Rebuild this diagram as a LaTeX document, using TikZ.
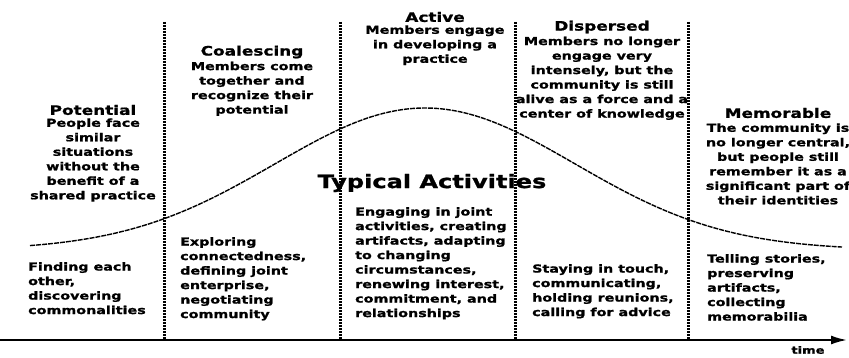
\documentclass[tikz,border=0pt]{standalone}
\usepackage{fontspec}
\usepackage{tikz}
\usetikzlibrary{positioning,arrows.meta}
\newfontfamily\stagefont{DejaVu Sans}[FakeStretch=1.3, FakeBold=1.2]

\tikzset{
    stagetitle/.style={font=\stagefont\bfseries\fontsize{13}{15}\selectfont, inner sep=1pt},
    stagebody/.style={font=\stagefont\bfseries\fontsize{11}{14.5}\selectfont, align=center, inner sep=0pt},
    activity/.style={font=\stagefont\bfseries\fontsize{11}{14.5}\selectfont, align=left, anchor=north west, inner sep=0pt},
    divider/.style={line width=3pt, dash pattern=on 2pt off 1pt},
    trend/.style={line width=1.4pt, dash pattern=on 5pt off 1pt}
}

\begin{document}
\begin{tikzpicture}[x=1pt, y=1pt]
    \useasboundingbox (0,0) rectangle (849,357);

    % Time axis
    \coordinate (origin) at (0,17);
    \coordinate (tEnd) at (847,17);
    \draw[line width=2pt, -{Latex[length=16pt,width=9pt]}] (origin) -- (tEnd);
    \node[font=\stagefont\bfseries\fontsize{10}{11}\selectfont, inner sep=0pt] (time) at (808,7) {time};

    % Stage boundaries
    \foreach \x in {164,340,515,688} {
        \draw[divider] (\x,335) -- (\x,17);
    }

    % Level of activity over time
    \draw[trend] plot[domain=30:842, samples=120]
        (\x, {107 + 142*exp(-0.5*((\x-425)/150)^2)});

    % Stages
    \node[stagetitle] (pot) at (93,247) {Potential};
    \node[stagebody, below=2pt of pot] (potText) {People face\\similar\\situations\\without the\\benefit of a\\shared practice};

    \node[stagetitle] (coa) at (252,305) {Coalescing};
    \node[stagebody, below=2pt of coa] (coaText) {Members come\\together and\\recognize their\\potential};

    \node[stagetitle] (act) at (435,340) {Active};
    \node[stagebody, below=2pt of act] (actText) {Members engage\\in developing a\\practice};

    \node[stagetitle] (dis) at (602,330) {Dispersed};
    \node[stagebody, below=2pt of dis] (disText) {Members no longer\\engage very\\intensely, but the\\community is still\\alive as a force and a\\center of knowledge};

    \node[stagetitle] (mem) at (778,244) {Memorable};
    \node[stagebody, below=4pt of mem] (memText) {The community is\\no longer central,\\but people still\\remember it as a\\significant part of\\their identities};

    % Typical activities
    \node[stagetitle, font=\stagefont\bfseries\fontsize{18.5}{20}\selectfont] (typ) at (432,174) {Typical Activities};

    \node[activity] (potAct) at (28,95) {Finding each\\other,\\discovering\\commonalities};
    \node[activity] (coaAct) at (180,120) {Exploring\\connectedness,\\defining joint\\enterprise,\\negotiating\\community};
    \node[activity] (actAct) at (355,150) {Engaging in joint\\activities, creating\\artifacts, adapting\\to changing\\circumstances,\\renewing interest,\\commitment, and\\relationships};
    \node[activity] (disAct) at (532,93) {Staying in touch,\\communicating,\\holding reunions,\\calling for advice};
    \node[activity] (memAct) at (707,103) {Telling stories,\\preserving\\artifacts,\\collecting\\memorabilia};
\end{tikzpicture}
\end{document}
